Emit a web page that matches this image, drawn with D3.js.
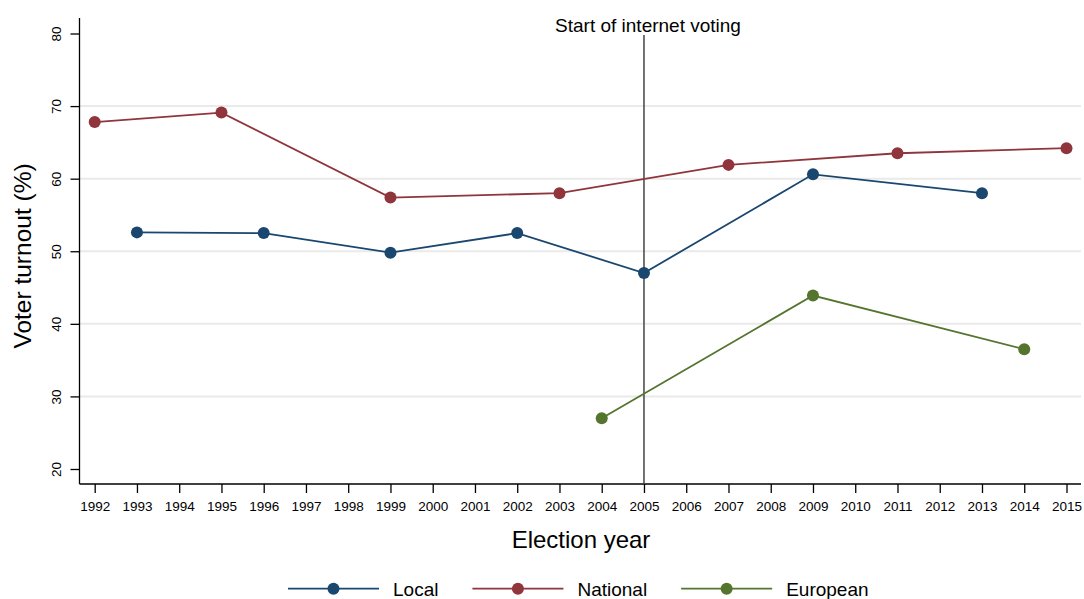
<!DOCTYPE html>
<html>
<head>
<meta charset="utf-8">
<script src="https://cdn.jsdelivr.net/npm/d3@7"></script>
<style>
  html, body { margin: 0; padding: 0; background: #fff; }
  svg { display: block; font-family: "Liberation Sans", Arial, Helvetica, sans-serif; }
</style>
</head>
<body>
<svg id="chart" width="1084" height="599"></svg>
<script>
// Election years shown on the x axis
const years = d3.range(1992, 2016);
const yTicks = [20, 30, 40, 50, 60, 70, 80];
const gridValues = [30, 40, 50, 60, 70];

// Turnout (%) by election type
const localYears = [1993, 1996, 1999, 2002, 2005, 2009, 2013];
const localTurnout = [52.6, 52.5, 49.8, 52.5, 47.0, 60.6, 58.0];

const nationalYears = [1992, 1995, 1999, 2003, 2007, 2011, 2015];
const nationalTurnout = [67.8, 69.1, 57.4, 58.0, 61.9, 63.5, 64.2];

const europeanYears = [2004, 2009, 2014];
const europeanTurnout = [27.0, 43.9, 36.5];

const seriesNames = ["Local", "National", "European"];
const seriesColors = ["#1a476f", "#90353b", "#55752f"];

const internetVotingYear = 2005;
const annotation = "Start of internet voting";

const series = [
  { name: seriesNames[0], color: seriesColors[0], pts: localYears.map((yr, i) => ({ x: yr, v: localTurnout[i] })) },
  { name: seriesNames[1], color: seriesColors[1], pts: nationalYears.map((yr, i) => ({ x: yr, v: nationalTurnout[i] })) },
  { name: seriesNames[2], color: seriesColors[2], pts: europeanYears.map((yr, i) => ({ x: yr, v: europeanTurnout[i] })) }
];

const svg = d3.select("#chart");

// Plot region
const plotLeft = 79.5, plotRight = 1081, plotTop = 18, plotBottom = 484;

const x = d3.scaleLinear().domain([1992, 2015]).range([94.7, 1066.5]);
const y = d3.scaleLinear().domain([20, 80]).range([469, 33.5]);

// Horizontal grid lines
svg.append("g").selectAll("line")
  .data(gridValues).join("line")
  .attr("x1", plotLeft).attr("x2", plotRight)
  .attr("y1", d => y(d)).attr("y2", d => y(d))
  .attr("stroke", "#eaeaea").attr("stroke-width", 2);

// Y axis
const yAxis = d3.axisLeft(y).tickValues(yTicks).tickSize(9).tickPadding(8).tickFormat(d3.format("d"));
const gy = svg.append("g").attr("transform", `translate(${plotLeft},0)`).call(yAxis);
gy.select(".domain").remove();
gy.selectAll(".tick line").attr("stroke", "#000").attr("stroke-width", 1.3);
gy.selectAll(".tick text")
  .attr("font-size", 13.5).attr("fill", "#000")
  .attr("text-anchor", "middle")
  .attr("x", null).attr("dy", null)
  .attr("transform", "translate(-18.5,0) rotate(-90)");

svg.append("line")
  .attr("x1", plotLeft).attr("x2", plotLeft).attr("y1", plotTop).attr("y2", plotBottom)
  .attr("stroke", "#000").attr("stroke-width", 1.3);

// X axis
const xAxis = d3.axisBottom(x).tickValues(years).tickSize(9).tickPadding(8).tickFormat(d3.format("d"));
const gx = svg.append("g").attr("transform", `translate(0,${plotBottom})`).call(xAxis);
gx.select(".domain").remove();
gx.selectAll(".tick line").attr("stroke", "#000").attr("stroke-width", 1.3);
gx.selectAll(".tick text").attr("font-size", 13.5).attr("fill", "#000")
  .attr("dy", null).attr("y", 26.7);

svg.append("line")
  .attr("x1", plotLeft).attr("x2", plotRight).attr("y1", plotBottom).attr("y2", plotBottom)
  .attr("stroke", "#000").attr("stroke-width", 1.3);

// Axis titles
svg.append("text")
  .attr("transform", `translate(31,256) rotate(-90)`)
  .attr("text-anchor", "middle").attr("font-size", 24.5).attr("fill", "#000")
  .text("Voter turnout (%)");

svg.append("text")
  .attr("x", 581).attr("y", 548)
  .attr("text-anchor", "middle").attr("font-size", 24).attr("fill", "#000")
  .text("Election year");

// Reference line marking the introduction of internet voting
svg.append("line")
  .attr("x1", x(internetVotingYear)).attr("x2", x(internetVotingYear))
  .attr("y1", 35).attr("y2", plotBottom)
  .attr("stroke", "#444").attr("stroke-width", 1.5);

svg.append("text")
  .attr("x", 648).attr("y", 31.5)
  .attr("text-anchor", "middle").attr("font-size", 19).attr("fill", "#000")
  .text(annotation);

// Series lines and markers
const line = d3.line().x(d => x(d.x)).y(d => y(d.v));
series.forEach(s => {
  const g = svg.append("g");
  g.append("path")
    .attr("d", line(s.pts))
    .attr("fill", "none").attr("stroke", s.color).attr("stroke-width", 1.8);
  g.selectAll("circle").data(s.pts).join("circle")
    .attr("cx", d => x(d.x)).attr("cy", d => y(d.v)).attr("r", 6)
    .attr("fill", s.color);
});

// Legend
const legendY = 588.7;
const lineLen = 91, gapText = 14, gapItem = 34;
const legend = svg.append("g");
let cursor = 288;
series.forEach(s => {
  const g = legend.append("g");
  g.append("line")
    .attr("x1", cursor).attr("x2", cursor + lineLen)
    .attr("y1", legendY).attr("y2", legendY)
    .attr("stroke", s.color).attr("stroke-width", 1.8);
  g.append("circle")
    .attr("cx", cursor + lineLen / 2).attr("cy", legendY).attr("r", 6)
    .attr("fill", s.color);
  const t = g.append("text")
    .attr("x", cursor + lineLen + gapText).attr("y", 596)
    .attr("font-size", 19).attr("fill", "#000")
    .text(s.name);
  cursor += lineLen + gapText + t.node().getComputedTextLength() + gapItem;
});
</script>
</body>
</html>
